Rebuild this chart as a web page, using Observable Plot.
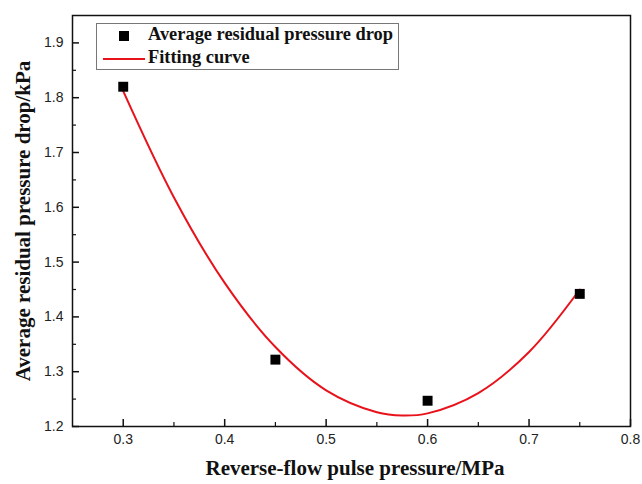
<!DOCTYPE html>
<html>
<head>
<meta charset="utf-8">
<script src="https://cdn.jsdelivr.net/npm/d3@7"></script>
<script src="https://cdn.jsdelivr.net/npm/@observablehq/plot@0.6"></script>
<style>
  html, body { margin: 0; padding: 0; background: #fff; }
  #wrap { position: relative; width: 642px; height: 484px; }
  .serifb { font-family: "Liberation Serif", "Times New Roman", serif; font-weight: bold; color: #111; position: absolute; white-space: nowrap; }
  #legend { position: absolute; left: 96px; top: 23px; width: 303px; height: 47px; border: 1px solid #777; box-sizing: border-box; background: #fff; }
</style>
</head>
<body>
<div id="wrap"></div>
<script>
// measured points
const pressure = [0.3, 0.45, 0.6, 0.75];
const residualDrop = [1.82, 1.322, 1.247, 1.442];
// fitting curve
const fitX = [0.3, 0.35, 0.4, 0.45, 0.5, 0.55, 0.575, 0.6, 0.65, 0.7, 0.75];
const fitY = [1.812, 1.618, 1.462, 1.345, 1.266, 1.226, 1.220, 1.224, 1.261, 1.336, 1.450];
// ticks
const xMajor = [0.3, 0.4, 0.5, 0.6, 0.7, 0.8];
const xMinor = [0.35, 0.45, 0.55, 0.65, 0.75];
const yMajor = [1.2, 1.3, 1.4, 1.5, 1.6, 1.7, 1.8, 1.9];
const yMinor = [1.25, 1.35, 1.45, 1.55, 1.65, 1.75, 1.85];

const pts = pressure.map((x, i) => ({x, y: residualDrop[i]}));
const fit = fitX.map((x, i) => ({x, y: fitY[i]}));

const tickFont = {fontSize: 14, fontFamily: "Liberation Sans, Arial, sans-serif", fill: "#222", tickFormat: d3.format(".1f")};

const chart = Plot.plot({
  width: 642,
  height: 484,
  marginLeft: 72,
  marginRight: 12,
  marginTop: 15,
  marginBottom: 58,
  style: {background: "#fff", overflow: "visible"},
  x: {domain: [0.25, 0.8]},
  y: {domain: [1.2, 1.95]},
  marks: [
    Plot.axisX(xMajor, {anchor: "bottom", tickSize: 7, dy: -7, text: null, label: null, stroke: "#111", strokeWidth: 1.5}),
    Plot.axisX(xMinor, {anchor: "bottom", tickSize: 4, dy: -4, text: null, label: null, stroke: "#111", strokeWidth: 1.2}),
    Plot.axisX(xMajor, {anchor: "bottom", tickSize: 0, tickPadding: 8, label: null, ...tickFont}),
    Plot.axisY(yMajor, {anchor: "left", tickSize: 7, dx: 7, text: null, label: null, stroke: "#111", strokeWidth: 1.5}),
    Plot.axisY(yMinor, {anchor: "left", tickSize: 4, dx: 4, text: null, label: null, stroke: "#111", strokeWidth: 1.2}),
    Plot.axisY(yMajor, {anchor: "left", tickSize: 0, tickPadding: 9, label: null, ...tickFont}),
    Plot.line(fit, {x: "x", y: "y", stroke: "#e8121b", strokeWidth: 2, curve: "catmull-rom"}),
    Plot.dot(pts, {x: "x", y: "y", symbol: "square", r: 5.6, fill: "#000", stroke: "none"}),
    Plot.frame({stroke: "#111", strokeWidth: 1.5})
  ]
});

const wrap = document.getElementById("wrap");
wrap.appendChild(chart);

// legend
const legend = document.createElement("div");
legend.id = "legend";
legend.innerHTML = `
  <div style="position:absolute;left:22px;top:7px;width:10px;height:10px;background:#000"></div>
  <div class="serifb" style="left:51px;top:0px;font-size:18.4px;">Average residual pressure drop</div>
  <div style="position:absolute;left:6px;top:34px;width:42px;height:2px;background:#e8121b"></div>
  <div class="serifb" style="left:51px;top:23px;font-size:18.4px;">Fitting curve</div>`;
wrap.appendChild(legend);

// axis titles
const xt = document.createElement("div");
xt.className = "serifb";
xt.textContent = "Reverse-flow pulse pressure/MPa";
xt.style.cssText = "left:355px;top:456px;font-size:21px;transform:translateX(-50%);";
wrap.appendChild(xt);

const yt = document.createElement("div");
yt.className = "serifb";
yt.textContent = "Average residual pressure drop/kPa";
yt.style.cssText = "left:23px;top:221px;font-size:21px;transform:translate(-50%,-50%) rotate(-90deg);";
wrap.appendChild(yt);
</script>
</body>
</html>
